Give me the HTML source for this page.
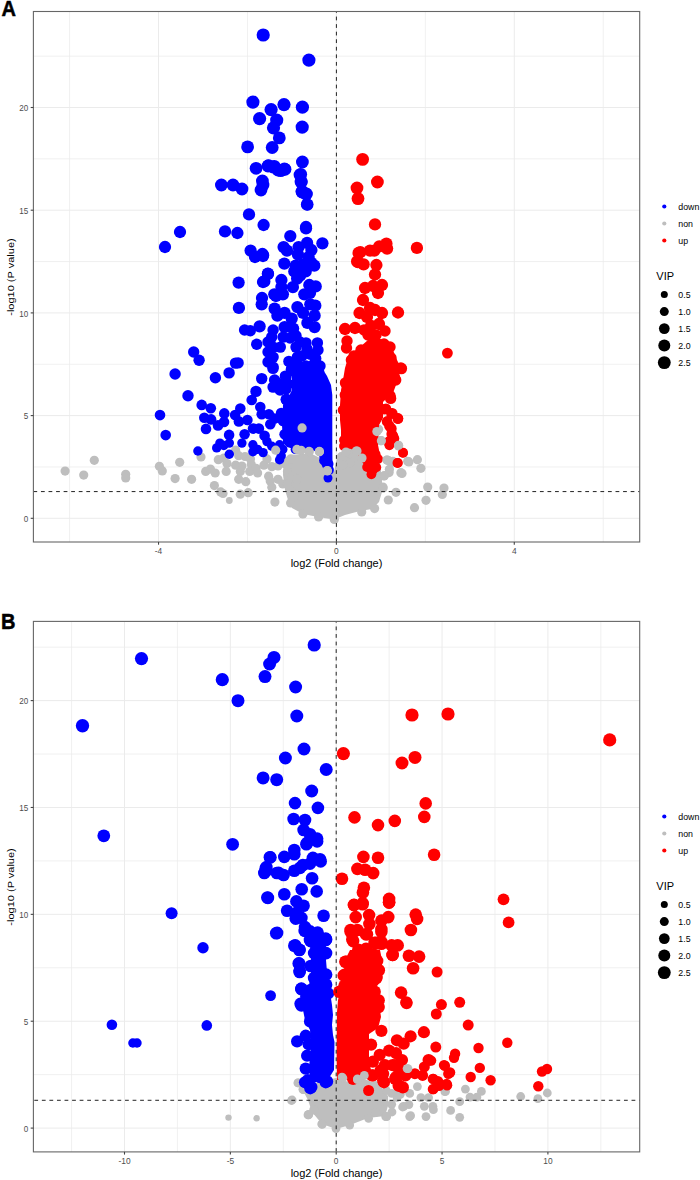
<!DOCTYPE html>
<html><head><meta charset="utf-8"><style>
html,body{margin:0;padding:0;background:#fff;width:700px;height:1180px;overflow:hidden}
svg{display:block}
text{font-family:"Liberation Sans",sans-serif}
</style></head><body>
<svg width="700" height="1180" viewBox="0 0 700 1180">
<rect width="700" height="1180" fill="#fff"/>
<line x1="69.58" y1="11.50" x2="69.58" y2="542.00" stroke="#EBEBEB" stroke-width="0.75" />
<line x1="247.46" y1="11.50" x2="247.46" y2="542.00" stroke="#EBEBEB" stroke-width="0.75" />
<line x1="425.34" y1="11.50" x2="425.34" y2="542.00" stroke="#EBEBEB" stroke-width="0.75" />
<line x1="603.22" y1="11.50" x2="603.22" y2="542.00" stroke="#EBEBEB" stroke-width="0.75" />
<line x1="33.40" y1="466.95" x2="639.70" y2="466.95" stroke="#EBEBEB" stroke-width="0.75" />
<line x1="33.40" y1="364.25" x2="639.70" y2="364.25" stroke="#EBEBEB" stroke-width="0.75" />
<line x1="33.40" y1="261.55" x2="639.70" y2="261.55" stroke="#EBEBEB" stroke-width="0.75" />
<line x1="33.40" y1="158.85" x2="639.70" y2="158.85" stroke="#EBEBEB" stroke-width="0.75" />
<line x1="33.40" y1="56.15" x2="639.70" y2="56.15" stroke="#EBEBEB" stroke-width="0.75" />
<line x1="158.52" y1="11.50" x2="158.52" y2="542.00" stroke="#EBEBEB" stroke-width="1.0" />
<line x1="336.40" y1="11.50" x2="336.40" y2="542.00" stroke="#EBEBEB" stroke-width="1.0" />
<line x1="514.28" y1="11.50" x2="514.28" y2="542.00" stroke="#EBEBEB" stroke-width="1.0" />
<line x1="33.40" y1="518.30" x2="639.70" y2="518.30" stroke="#EBEBEB" stroke-width="1.0" />
<line x1="33.40" y1="415.60" x2="639.70" y2="415.60" stroke="#EBEBEB" stroke-width="1.0" />
<line x1="33.40" y1="312.90" x2="639.70" y2="312.90" stroke="#EBEBEB" stroke-width="1.0" />
<line x1="33.40" y1="210.20" x2="639.70" y2="210.20" stroke="#EBEBEB" stroke-width="1.0" />
<line x1="33.40" y1="107.50" x2="639.70" y2="107.50" stroke="#EBEBEB" stroke-width="1.0" />
<polygon points="284,458 290,455 300,454 312,454 320,458 326,470 334,472 337,458 350,452 365,458 380,462 382,480 382,492 379,502 372,509 360,511 345,515 334,519.5 318,517 303,514 292,508 288,500 285,490 283,475" fill="#BEBEBE"/>
<circle cx="65.1" cy="471.1" r="4.6" fill="#BEBEBE"/>
<circle cx="83.7" cy="475.1" r="4.6" fill="#BEBEBE"/>
<circle cx="94.3" cy="460.3" r="4.6" fill="#BEBEBE"/>
<circle cx="125.7" cy="474.3" r="4.6" fill="#BEBEBE"/>
<circle cx="125.7" cy="478.0" r="4.6" fill="#BEBEBE"/>
<circle cx="159.4" cy="466.3" r="4.6" fill="#BEBEBE"/>
<circle cx="162.3" cy="470.9" r="4.6" fill="#BEBEBE"/>
<circle cx="179.7" cy="462.3" r="4.6" fill="#BEBEBE"/>
<circle cx="175.1" cy="478.6" r="4.6" fill="#BEBEBE"/>
<circle cx="201.0" cy="457.0" r="4.6" fill="#BEBEBE"/>
<circle cx="218.3" cy="459.7" r="4.6" fill="#BEBEBE"/>
<circle cx="223.8" cy="458.1" r="4.6" fill="#BEBEBE"/>
<circle cx="227.0" cy="463.6" r="4.6" fill="#BEBEBE"/>
<circle cx="226.2" cy="471.4" r="4.6" fill="#BEBEBE"/>
<circle cx="235.6" cy="450.2" r="4.6" fill="#BEBEBE"/>
<circle cx="238.7" cy="455.7" r="4.6" fill="#BEBEBE"/>
<circle cx="245.0" cy="456.5" r="4.6" fill="#BEBEBE"/>
<circle cx="250.5" cy="458.9" r="4.6" fill="#BEBEBE"/>
<circle cx="251.3" cy="464.4" r="4.6" fill="#BEBEBE"/>
<circle cx="235.6" cy="465.2" r="4.6" fill="#BEBEBE"/>
<circle cx="241.9" cy="466.0" r="4.6" fill="#BEBEBE"/>
<circle cx="240.3" cy="471.4" r="4.6" fill="#BEBEBE"/>
<circle cx="238.7" cy="479.3" r="4.6" fill="#BEBEBE"/>
<circle cx="245.8" cy="481.7" r="4.6" fill="#BEBEBE"/>
<circle cx="249.7" cy="471.4" r="4.6" fill="#BEBEBE"/>
<circle cx="256.0" cy="468.3" r="4.6" fill="#BEBEBE"/>
<circle cx="263.9" cy="465.2" r="4.6" fill="#BEBEBE"/>
<circle cx="267.0" cy="458.9" r="4.6" fill="#BEBEBE"/>
<circle cx="257.6" cy="473.0" r="4.6" fill="#BEBEBE"/>
<circle cx="271.8" cy="466.7" r="4.6" fill="#BEBEBE"/>
<circle cx="278.0" cy="466.0" r="4.6" fill="#BEBEBE"/>
<circle cx="284.3" cy="463.6" r="4.6" fill="#BEBEBE"/>
<circle cx="290.6" cy="458.9" r="4.6" fill="#BEBEBE"/>
<circle cx="205.7" cy="471.4" r="4.6" fill="#BEBEBE"/>
<circle cx="210.4" cy="469.1" r="4.6" fill="#BEBEBE"/>
<circle cx="215.2" cy="473.0" r="4.6" fill="#BEBEBE"/>
<circle cx="191.6" cy="479.3" r="4.6" fill="#BEBEBE"/>
<circle cx="214.4" cy="485.6" r="4.6" fill="#BEBEBE"/>
<circle cx="220.7" cy="491.9" r="4.6" fill="#BEBEBE"/>
<circle cx="223.0" cy="493.5" r="4.6" fill="#BEBEBE"/>
<circle cx="229.3" cy="500.5" r="3.4" fill="#BEBEBE"/>
<circle cx="240.3" cy="494.2" r="4.6" fill="#BEBEBE"/>
<circle cx="248.2" cy="492.7" r="4.6" fill="#BEBEBE"/>
<circle cx="270.2" cy="480.9" r="4.6" fill="#BEBEBE"/>
<circle cx="271.8" cy="487.2" r="4.6" fill="#BEBEBE"/>
<circle cx="268.6" cy="476.2" r="4.6" fill="#BEBEBE"/>
<circle cx="278.0" cy="479.3" r="4.6" fill="#BEBEBE"/>
<circle cx="282.8" cy="484.0" r="4.6" fill="#BEBEBE"/>
<circle cx="274.9" cy="502.1" r="4.6" fill="#BEBEBE"/>
<circle cx="287.5" cy="471.4" r="4.6" fill="#BEBEBE"/>
<circle cx="292.2" cy="476.2" r="4.6" fill="#BEBEBE"/>
<circle cx="296.9" cy="479.3" r="4.6" fill="#BEBEBE"/>
<circle cx="287.5" cy="484.0" r="4.6" fill="#BEBEBE"/>
<circle cx="290.6" cy="490.3" r="4.6" fill="#BEBEBE"/>
<circle cx="293.8" cy="496.6" r="4.6" fill="#BEBEBE"/>
<circle cx="290.6" cy="502.9" r="4.6" fill="#BEBEBE"/>
<circle cx="302.9" cy="513.9" r="4.6" fill="#BEBEBE"/>
<circle cx="318.6" cy="517.0" r="4.6" fill="#BEBEBE"/>
<circle cx="334.3" cy="519.4" r="4.6" fill="#BEBEBE"/>
<circle cx="398.6" cy="446.0" r="4.6" fill="#BEBEBE"/>
<circle cx="408.9" cy="461.9" r="4.6" fill="#BEBEBE"/>
<circle cx="417.4" cy="459.7" r="4.6" fill="#BEBEBE"/>
<circle cx="420.9" cy="468.3" r="4.6" fill="#BEBEBE"/>
<circle cx="402.0" cy="473.4" r="4.6" fill="#BEBEBE"/>
<circle cx="388.3" cy="460.6" r="4.6" fill="#BEBEBE"/>
<circle cx="391.7" cy="462.3" r="4.6" fill="#BEBEBE"/>
<circle cx="389.1" cy="472.6" r="4.6" fill="#BEBEBE"/>
<circle cx="384.0" cy="476.0" r="4.6" fill="#BEBEBE"/>
<circle cx="427.7" cy="487.1" r="4.6" fill="#BEBEBE"/>
<circle cx="444.0" cy="488.0" r="4.6" fill="#BEBEBE"/>
<circle cx="442.3" cy="494.5" r="4.6" fill="#BEBEBE"/>
<circle cx="426.0" cy="500.3" r="4.6" fill="#BEBEBE"/>
<circle cx="414.5" cy="507.7" r="4.6" fill="#BEBEBE"/>
<circle cx="396.0" cy="492.3" r="4.6" fill="#BEBEBE"/>
<circle cx="388.3" cy="500.0" r="4.6" fill="#BEBEBE"/>
<circle cx="383.1" cy="488.0" r="4.6" fill="#BEBEBE"/>
<circle cx="361.7" cy="512.0" r="4.6" fill="#BEBEBE"/>
<circle cx="374.6" cy="508.6" r="4.6" fill="#BEBEBE"/>
<circle cx="378.6" cy="429.3" r="4.6" fill="#BEBEBE"/>
<circle cx="380.7" cy="440.7" r="4.6" fill="#BEBEBE"/>
<circle cx="387.1" cy="460.0" r="4.6" fill="#BEBEBE"/>
<circle cx="392.9" cy="461.4" r="4.6" fill="#BEBEBE"/>
<circle cx="384.3" cy="475.7" r="4.6" fill="#BEBEBE"/>
<circle cx="354.3" cy="450.7" r="4.6" fill="#BEBEBE"/>
<circle cx="347.1" cy="452.9" r="4.6" fill="#BEBEBE"/>
<circle cx="342.9" cy="457.1" r="4.6" fill="#BEBEBE"/>
<circle cx="382.9" cy="487.0" r="4.6" fill="#BEBEBE"/>
<polygon points="294,368 305,362 316,362 322,368 327,376 331,385 332.3,395 332.3,420 332.3,440 332.5,468 330,474 326,474 322,466 319,456 316,451 305,450 294,449 287,447 283,443 282,425 283,405 288,398 292,390 292,375" fill="#0000FF"/>
<circle cx="263.2" cy="35.0" r="6.6" fill="#0000FF"/>
<circle cx="308.9" cy="60.1" r="6.6" fill="#0000FF"/>
<circle cx="252.9" cy="102.1" r="6.6" fill="#0000FF"/>
<circle cx="284.0" cy="104.6" r="6.6" fill="#0000FF"/>
<circle cx="302.4" cy="107.2" r="6.6" fill="#0000FF"/>
<circle cx="271.1" cy="109.6" r="6.6" fill="#0000FF"/>
<circle cx="259.6" cy="118.6" r="6.6" fill="#0000FF"/>
<circle cx="276.7" cy="120.1" r="6.6" fill="#0000FF"/>
<circle cx="273.5" cy="127.8" r="6.6" fill="#0000FF"/>
<circle cx="302.2" cy="127.1" r="6.6" fill="#0000FF"/>
<circle cx="279.3" cy="137.9" r="6.4" fill="#0000FF"/>
<circle cx="247.6" cy="146.9" r="6.4" fill="#0000FF"/>
<circle cx="272.2" cy="147.5" r="6.4" fill="#0000FF"/>
<circle cx="302.4" cy="162.0" r="6.4" fill="#0000FF"/>
<circle cx="256.1" cy="168.3" r="6.4" fill="#0000FF"/>
<circle cx="268.0" cy="166.0" r="6.4" fill="#0000FF"/>
<circle cx="273.0" cy="167.0" r="6.4" fill="#0000FF"/>
<circle cx="278.0" cy="170.0" r="6.4" fill="#0000FF"/>
<circle cx="284.4" cy="169.0" r="6.4" fill="#0000FF"/>
<circle cx="300.0" cy="175.0" r="6.4" fill="#0000FF"/>
<circle cx="301.0" cy="182.0" r="6.4" fill="#0000FF"/>
<circle cx="302.0" cy="192.0" r="6.4" fill="#0000FF"/>
<circle cx="306.0" cy="194.0" r="6.4" fill="#0000FF"/>
<circle cx="307.0" cy="204.4" r="6.15" fill="#0000FF"/>
<circle cx="306.0" cy="227.0" r="6.15" fill="#0000FF"/>
<circle cx="221.4" cy="185.0" r="6.4" fill="#0000FF"/>
<circle cx="233.0" cy="185.0" r="6.4" fill="#0000FF"/>
<circle cx="242.0" cy="189.0" r="6.4" fill="#0000FF"/>
<circle cx="262.4" cy="181.0" r="6.4" fill="#0000FF"/>
<circle cx="263.0" cy="185.0" r="6.4" fill="#0000FF"/>
<circle cx="261.0" cy="190.0" r="6.4" fill="#0000FF"/>
<circle cx="249.0" cy="214.4" r="6.15" fill="#0000FF"/>
<circle cx="263.6" cy="225.0" r="6.15" fill="#0000FF"/>
<circle cx="180.0" cy="232.0" r="6.15" fill="#0000FF"/>
<circle cx="165.0" cy="247.0" r="6.15" fill="#0000FF"/>
<circle cx="225.0" cy="231.4" r="6.15" fill="#0000FF"/>
<circle cx="237.4" cy="233.0" r="6.15" fill="#0000FF"/>
<circle cx="250.6" cy="250.6" r="6.15" fill="#0000FF"/>
<circle cx="255.0" cy="257.0" r="6.15" fill="#0000FF"/>
<circle cx="262.4" cy="254.0" r="6.15" fill="#0000FF"/>
<circle cx="263.0" cy="256.0" r="6.15" fill="#0000FF"/>
<circle cx="238.6" cy="282.6" r="6.15" fill="#0000FF"/>
<circle cx="268.0" cy="274.0" r="6.15" fill="#0000FF"/>
<circle cx="263.0" cy="282.0" r="6.15" fill="#0000FF"/>
<circle cx="276.0" cy="296.0" r="6.15" fill="#0000FF"/>
<circle cx="262.0" cy="298.0" r="6.15" fill="#0000FF"/>
<circle cx="306.0" cy="228.3" r="6.15" fill="#0000FF"/>
<circle cx="290.3" cy="236.1" r="6.15" fill="#0000FF"/>
<circle cx="322.4" cy="243.3" r="6.15" fill="#0000FF"/>
<circle cx="283.6" cy="247.1" r="6.15" fill="#0000FF"/>
<circle cx="287.0" cy="250.7" r="6.15" fill="#0000FF"/>
<circle cx="298.6" cy="247.1" r="6.15" fill="#0000FF"/>
<circle cx="307.1" cy="242.9" r="6.15" fill="#0000FF"/>
<circle cx="311.4" cy="250.0" r="6.15" fill="#0000FF"/>
<circle cx="263.1" cy="255.0" r="6.15" fill="#0000FF"/>
<circle cx="297.9" cy="254.3" r="6.15" fill="#0000FF"/>
<circle cx="308.6" cy="257.1" r="6.15" fill="#0000FF"/>
<circle cx="284.3" cy="263.6" r="6.15" fill="#0000FF"/>
<circle cx="295.7" cy="265.7" r="6.15" fill="#0000FF"/>
<circle cx="302.9" cy="264.3" r="6.15" fill="#0000FF"/>
<circle cx="314.3" cy="265.7" r="6.15" fill="#0000FF"/>
<circle cx="311.4" cy="262.9" r="6.15" fill="#0000FF"/>
<circle cx="294.3" cy="271.4" r="6.15" fill="#0000FF"/>
<circle cx="305.7" cy="271.4" r="6.15" fill="#0000FF"/>
<circle cx="300.0" cy="275.7" r="6.15" fill="#0000FF"/>
<circle cx="267.9" cy="273.6" r="6.15" fill="#0000FF"/>
<circle cx="264.3" cy="281.4" r="6.15" fill="#0000FF"/>
<circle cx="281.4" cy="280.0" r="6.15" fill="#0000FF"/>
<circle cx="297.1" cy="278.6" r="6.15" fill="#0000FF"/>
<circle cx="292.9" cy="287.1" r="6.15" fill="#0000FF"/>
<circle cx="281.4" cy="287.1" r="6.15" fill="#0000FF"/>
<circle cx="282.9" cy="294.3" r="6.15" fill="#0000FF"/>
<circle cx="274.3" cy="294.3" r="6.15" fill="#0000FF"/>
<circle cx="309.3" cy="285.0" r="6.15" fill="#0000FF"/>
<circle cx="315.7" cy="286.4" r="6.15" fill="#0000FF"/>
<circle cx="304.3" cy="294.3" r="6.15" fill="#0000FF"/>
<circle cx="310.0" cy="292.9" r="6.15" fill="#0000FF"/>
<circle cx="160.0" cy="415.1" r="5.3" fill="#0000FF"/>
<circle cx="165.7" cy="435.1" r="5.3" fill="#0000FF"/>
<circle cx="193.7" cy="352.0" r="5.7" fill="#0000FF"/>
<circle cx="199.1" cy="360.2" r="5.7" fill="#0000FF"/>
<circle cx="175.1" cy="374.0" r="5.7" fill="#0000FF"/>
<circle cx="215.4" cy="377.7" r="5.7" fill="#0000FF"/>
<circle cx="229.1" cy="372.9" r="5.7" fill="#0000FF"/>
<circle cx="235.5" cy="363.1" r="5.7" fill="#0000FF"/>
<circle cx="188.0" cy="395.7" r="5.7" fill="#0000FF"/>
<circle cx="201.7" cy="404.9" r="5.3" fill="#0000FF"/>
<circle cx="210.8" cy="408.3" r="5.3" fill="#0000FF"/>
<circle cx="204.3" cy="417.7" r="5.3" fill="#0000FF"/>
<circle cx="211.1" cy="419.4" r="5.3" fill="#0000FF"/>
<circle cx="206.0" cy="428.9" r="5.3" fill="#0000FF"/>
<circle cx="218.0" cy="425.4" r="5.3" fill="#0000FF"/>
<circle cx="224.3" cy="413.4" r="5.3" fill="#0000FF"/>
<circle cx="224.0" cy="422.0" r="5.3" fill="#0000FF"/>
<circle cx="235.1" cy="415.1" r="5.3" fill="#0000FF"/>
<circle cx="229.1" cy="434.9" r="5.3" fill="#0000FF"/>
<circle cx="268.6" cy="165.7" r="6.4" fill="#0000FF"/>
<circle cx="274.3" cy="166.4" r="6.4" fill="#0000FF"/>
<circle cx="280.7" cy="170.7" r="6.4" fill="#0000FF"/>
<circle cx="285.0" cy="169.3" r="6.4" fill="#0000FF"/>
<circle cx="300.7" cy="174.3" r="6.4" fill="#0000FF"/>
<circle cx="301.4" cy="181.7" r="6.4" fill="#0000FF"/>
<circle cx="302.1" cy="191.4" r="6.4" fill="#0000FF"/>
<circle cx="306.4" cy="194.0" r="6.4" fill="#0000FF"/>
<circle cx="307.4" cy="204.6" r="6.15" fill="#0000FF"/>
<circle cx="324.0" cy="460.6" r="4.9" fill="#0000FF"/>
<circle cx="328.6" cy="464.0" r="4.9" fill="#0000FF"/>
<circle cx="238.9" cy="307.9" r="6.15" fill="#0000FF"/>
<circle cx="261.7" cy="304.3" r="6.15" fill="#0000FF"/>
<circle cx="274.6" cy="308.6" r="6.15" fill="#0000FF"/>
<circle cx="277.4" cy="315.7" r="6.15" fill="#0000FF"/>
<circle cx="284.6" cy="312.9" r="6.15" fill="#0000FF"/>
<circle cx="291.7" cy="318.6" r="6.15" fill="#0000FF"/>
<circle cx="297.4" cy="307.1" r="6.15" fill="#0000FF"/>
<circle cx="303.1" cy="312.9" r="6.15" fill="#0000FF"/>
<circle cx="310.3" cy="304.3" r="6.15" fill="#0000FF"/>
<circle cx="314.6" cy="315.7" r="6.15" fill="#0000FF"/>
<circle cx="315.3" cy="305.7" r="6.15" fill="#0000FF"/>
<circle cx="307.4" cy="322.9" r="6.15" fill="#0000FF"/>
<circle cx="314.6" cy="327.1" r="6.15" fill="#0000FF"/>
<circle cx="244.6" cy="330.0" r="5.7" fill="#0000FF"/>
<circle cx="250.3" cy="330.7" r="5.7" fill="#0000FF"/>
<circle cx="259.6" cy="326.4" r="6.15" fill="#0000FF"/>
<circle cx="256.7" cy="344.3" r="5.7" fill="#0000FF"/>
<circle cx="238.1" cy="362.9" r="5.7" fill="#0000FF"/>
<circle cx="273.1" cy="330.0" r="5.7" fill="#0000FF"/>
<circle cx="271.7" cy="337.1" r="5.7" fill="#0000FF"/>
<circle cx="273.1" cy="347.1" r="5.7" fill="#0000FF"/>
<circle cx="273.1" cy="357.1" r="5.7" fill="#0000FF"/>
<circle cx="273.1" cy="367.1" r="5.7" fill="#0000FF"/>
<circle cx="284.6" cy="327.1" r="6.15" fill="#0000FF"/>
<circle cx="293.1" cy="328.6" r="6.15" fill="#0000FF"/>
<circle cx="296.0" cy="335.7" r="5.7" fill="#0000FF"/>
<circle cx="283.1" cy="337.1" r="5.7" fill="#0000FF"/>
<circle cx="280.3" cy="347.1" r="5.7" fill="#0000FF"/>
<circle cx="288.9" cy="361.4" r="5.7" fill="#0000FF"/>
<circle cx="296.0" cy="347.1" r="5.7" fill="#0000FF"/>
<circle cx="297.4" cy="357.1" r="5.7" fill="#0000FF"/>
<circle cx="306.0" cy="342.9" r="5.7" fill="#0000FF"/>
<circle cx="317.4" cy="342.9" r="5.7" fill="#0000FF"/>
<circle cx="315.7" cy="358.6" r="5.7" fill="#0000FF"/>
<circle cx="310.3" cy="354.3" r="5.7" fill="#0000FF"/>
<circle cx="261.7" cy="378.6" r="5.7" fill="#0000FF"/>
<circle cx="274.6" cy="380.0" r="5.7" fill="#0000FF"/>
<circle cx="286.0" cy="377.1" r="5.7" fill="#0000FF"/>
<circle cx="256.0" cy="391.4" r="5.7" fill="#0000FF"/>
<circle cx="251.7" cy="400.0" r="5.3" fill="#0000FF"/>
<circle cx="273.1" cy="387.1" r="5.7" fill="#0000FF"/>
<circle cx="286.0" cy="400.0" r="5.3" fill="#0000FF"/>
<circle cx="240.3" cy="408.6" r="5.3" fill="#0000FF"/>
<circle cx="238.9" cy="421.4" r="5.3" fill="#0000FF"/>
<circle cx="260.3" cy="407.1" r="5.3" fill="#0000FF"/>
<circle cx="261.7" cy="414.3" r="5.3" fill="#0000FF"/>
<circle cx="268.9" cy="414.3" r="5.3" fill="#0000FF"/>
<circle cx="274.6" cy="418.6" r="5.3" fill="#0000FF"/>
<circle cx="247.4" cy="420.0" r="5.3" fill="#0000FF"/>
<circle cx="253.1" cy="428.6" r="5.3" fill="#0000FF"/>
<circle cx="258.9" cy="428.6" r="5.3" fill="#0000FF"/>
<circle cx="270.3" cy="424.3" r="5.3" fill="#0000FF"/>
<circle cx="244.6" cy="434.3" r="5.3" fill="#0000FF"/>
<circle cx="264.6" cy="435.7" r="5.3" fill="#0000FF"/>
<circle cx="284.6" cy="434.3" r="5.3" fill="#0000FF"/>
<circle cx="318.6" cy="371.4" r="5.7" fill="#0000FF"/>
<circle cx="321.4" cy="392.9" r="5.7" fill="#0000FF"/>
<circle cx="322.9" cy="404.3" r="5.3" fill="#0000FF"/>
<circle cx="323.6" cy="414.3" r="5.3" fill="#0000FF"/>
<circle cx="323.6" cy="428.6" r="5.3" fill="#0000FF"/>
<circle cx="322.9" cy="442.9" r="4.9" fill="#0000FF"/>
<circle cx="288.0" cy="384.0" r="5.7" fill="#0000FF"/>
<circle cx="295.0" cy="372.0" r="5.7" fill="#0000FF"/>
<circle cx="300.0" cy="342.0" r="5.7" fill="#0000FF"/>
<circle cx="307.0" cy="349.0" r="5.7" fill="#0000FF"/>
<circle cx="302.0" cy="356.0" r="5.7" fill="#0000FF"/>
<circle cx="318.0" cy="350.0" r="5.7" fill="#0000FF"/>
<circle cx="298.0" cy="365.0" r="5.7" fill="#0000FF"/>
<circle cx="306.0" cy="366.0" r="5.7" fill="#0000FF"/>
<circle cx="314.0" cy="364.0" r="5.7" fill="#0000FF"/>
<circle cx="320.0" cy="366.0" r="5.7" fill="#0000FF"/>
<circle cx="290.0" cy="338.0" r="5.7" fill="#0000FF"/>
<circle cx="268.0" cy="342.0" r="5.7" fill="#0000FF"/>
<circle cx="268.0" cy="352.0" r="5.7" fill="#0000FF"/>
<circle cx="268.0" cy="362.0" r="5.7" fill="#0000FF"/>
<circle cx="197.9" cy="451.0" r="4.7" fill="#0000FF"/>
<circle cx="219.9" cy="443.1" r="4.7" fill="#0000FF"/>
<circle cx="216.7" cy="447.9" r="4.7" fill="#0000FF"/>
<circle cx="223.8" cy="445.5" r="4.7" fill="#0000FF"/>
<circle cx="229.3" cy="443.1" r="4.7" fill="#0000FF"/>
<circle cx="229.3" cy="454.2" r="4.7" fill="#0000FF"/>
<circle cx="241.9" cy="443.1" r="4.7" fill="#0000FF"/>
<circle cx="252.9" cy="444.7" r="4.7" fill="#0000FF"/>
<circle cx="257.6" cy="449.4" r="4.7" fill="#0000FF"/>
<circle cx="252.9" cy="451.8" r="4.7" fill="#0000FF"/>
<circle cx="263.1" cy="452.6" r="4.7" fill="#0000FF"/>
<circle cx="267.0" cy="441.6" r="4.7" fill="#0000FF"/>
<circle cx="271.8" cy="446.3" r="4.7" fill="#0000FF"/>
<circle cx="279.6" cy="444.7" r="4.7" fill="#0000FF"/>
<circle cx="282.8" cy="449.4" r="4.7" fill="#0000FF"/>
<circle cx="281.2" cy="455.7" r="4.7" fill="#0000FF"/>
<circle cx="279.6" cy="459.7" r="4.7" fill="#0000FF"/>
<circle cx="293.8" cy="443.1" r="4.7" fill="#0000FF"/>
<circle cx="295.3" cy="449.4" r="4.7" fill="#0000FF"/>
<circle cx="273.0" cy="368.4" r="5.7" fill="#0000FF"/>
<circle cx="281.0" cy="384.0" r="5.7" fill="#0000FF"/>
<circle cx="286.0" cy="389.0" r="5.7" fill="#0000FF"/>
<circle cx="280.0" cy="390.0" r="5.7" fill="#0000FF"/>
<circle cx="285.4" cy="376.1" r="5.7" fill="#0000FF"/>
<circle cx="291.4" cy="369.3" r="5.7" fill="#0000FF"/>
<circle cx="281.1" cy="413.0" r="5.3" fill="#0000FF"/>
<circle cx="288.0" cy="410.0" r="5.3" fill="#0000FF"/>
<circle cx="290.0" cy="418.0" r="5.3" fill="#0000FF"/>
<circle cx="283.0" cy="421.0" r="5.3" fill="#0000FF"/>
<circle cx="286.3" cy="399.3" r="5.7" fill="#0000FF"/>
<circle cx="328.0" cy="478.0" r="4.5" fill="#0000FF"/>
<circle cx="329.0" cy="470.0" r="4.9" fill="#0000FF"/>
<polygon points="345,368 348,358 352,353 360,347 368,340 378,338 388,342 393,350 396,358 400,366 399,375 396,385 393,393 387,398 383,402 383,418 379,425 378,445 380,455 376,468 370,472 362,462 355,450 345,450 341,440 341,430 340,420 340,405 341,390 343,380" fill="#FF0000"/>
<circle cx="362.6" cy="159.4" r="6.4" fill="#FF0000"/>
<circle cx="377.4" cy="182.0" r="6.4" fill="#FF0000"/>
<circle cx="357.0" cy="188.0" r="6.4" fill="#FF0000"/>
<circle cx="358.0" cy="198.6" r="6.4" fill="#FF0000"/>
<circle cx="375.0" cy="224.4" r="6.15" fill="#FF0000"/>
<circle cx="386.4" cy="243.6" r="6.15" fill="#FF0000"/>
<circle cx="387.1" cy="248.6" r="6.15" fill="#FF0000"/>
<circle cx="379.3" cy="246.4" r="6.15" fill="#FF0000"/>
<circle cx="374.3" cy="250.7" r="6.15" fill="#FF0000"/>
<circle cx="370.0" cy="250.7" r="6.15" fill="#FF0000"/>
<circle cx="416.9" cy="247.9" r="6.15" fill="#FF0000"/>
<circle cx="360.3" cy="252.1" r="6.15" fill="#FF0000"/>
<circle cx="357.9" cy="262.1" r="6.15" fill="#FF0000"/>
<circle cx="363.6" cy="264.3" r="6.15" fill="#FF0000"/>
<circle cx="376.4" cy="265.0" r="6.15" fill="#FF0000"/>
<circle cx="358.6" cy="252.9" r="6.15" fill="#FF0000"/>
<circle cx="357.1" cy="261.4" r="6.15" fill="#FF0000"/>
<circle cx="351.4" cy="360.0" r="5.7" fill="#FF0000"/>
<circle cx="390.0" cy="360.0" r="5.7" fill="#FF0000"/>
<circle cx="401.4" cy="368.6" r="5.7" fill="#FF0000"/>
<circle cx="395.7" cy="380.0" r="5.7" fill="#FF0000"/>
<circle cx="390.0" cy="395.7" r="5.7" fill="#FF0000"/>
<circle cx="384.3" cy="409.3" r="5.3" fill="#FF0000"/>
<circle cx="391.4" cy="413.6" r="5.3" fill="#FF0000"/>
<circle cx="397.9" cy="418.6" r="5.3" fill="#FF0000"/>
<circle cx="387.1" cy="421.4" r="5.3" fill="#FF0000"/>
<circle cx="391.4" cy="428.6" r="5.3" fill="#FF0000"/>
<circle cx="392.9" cy="435.7" r="5.3" fill="#FF0000"/>
<circle cx="388.6" cy="441.4" r="4.9" fill="#FF0000"/>
<circle cx="402.9" cy="452.9" r="4.9" fill="#FF0000"/>
<circle cx="397.9" cy="462.9" r="4.9" fill="#FF0000"/>
<circle cx="372.9" cy="470.0" r="4.9" fill="#FF0000"/>
<circle cx="371.4" cy="474.3" r="4.9" fill="#FF0000"/>
<circle cx="367.1" cy="467.1" r="4.9" fill="#FF0000"/>
<circle cx="376.3" cy="467.4" r="4.9" fill="#FF0000"/>
<circle cx="389.1" cy="443.4" r="4.9" fill="#FF0000"/>
<circle cx="394.3" cy="377.0" r="5.7" fill="#FF0000"/>
<circle cx="447.4" cy="353.1" r="5.4" fill="#FF0000"/>
<circle cx="345.5" cy="382.9" r="5.7" fill="#FF0000"/>
<circle cx="345.3" cy="395.0" r="5.7" fill="#FF0000"/>
<circle cx="343.0" cy="410.0" r="5.3" fill="#FF0000"/>
<circle cx="346.5" cy="425.0" r="5.3" fill="#FF0000"/>
<circle cx="344.0" cy="440.0" r="4.9" fill="#FF0000"/>
<circle cx="347.0" cy="451.0" r="4.9" fill="#FF0000"/>
<circle cx="390.6" cy="360.0" r="5.7" fill="#FF0000"/>
<circle cx="400.9" cy="368.0" r="5.7" fill="#FF0000"/>
<circle cx="394.0" cy="377.1" r="5.7" fill="#FF0000"/>
<circle cx="390.6" cy="398.4" r="5.7" fill="#FF0000"/>
<circle cx="386.0" cy="408.7" r="5.3" fill="#FF0000"/>
<circle cx="392.3" cy="413.3" r="5.3" fill="#FF0000"/>
<circle cx="398.0" cy="418.4" r="5.3" fill="#FF0000"/>
<circle cx="389.4" cy="425.9" r="5.3" fill="#FF0000"/>
<circle cx="391.7" cy="433.9" r="5.3" fill="#FF0000"/>
<circle cx="394.0" cy="438.4" r="5.3" fill="#FF0000"/>
<circle cx="389.4" cy="445.3" r="4.9" fill="#FF0000"/>
<circle cx="403.1" cy="452.7" r="4.9" fill="#FF0000"/>
<circle cx="397.4" cy="463.0" r="4.9" fill="#FF0000"/>
<circle cx="375.7" cy="454.4" r="4.9" fill="#FF0000"/>
<circle cx="378.0" cy="459.0" r="4.9" fill="#FF0000"/>
<circle cx="373.4" cy="463.6" r="4.9" fill="#FF0000"/>
<circle cx="371.1" cy="469.3" r="4.9" fill="#FF0000"/>
<circle cx="344.0" cy="446.0" r="4.9" fill="#FF0000"/>
<circle cx="375.0" cy="274.5" r="6.15" fill="#FF0000"/>
<circle cx="365.0" cy="288.0" r="6.15" fill="#FF0000"/>
<circle cx="373.0" cy="286.0" r="6.15" fill="#FF0000"/>
<circle cx="382.0" cy="285.0" r="6.15" fill="#FF0000"/>
<circle cx="378.0" cy="293.0" r="6.15" fill="#FF0000"/>
<circle cx="363.0" cy="300.0" r="6.15" fill="#FF0000"/>
<circle cx="370.0" cy="308.0" r="6.15" fill="#FF0000"/>
<circle cx="375.0" cy="310.0" r="6.15" fill="#FF0000"/>
<circle cx="359.5" cy="313.0" r="6.15" fill="#FF0000"/>
<circle cx="382.0" cy="313.0" r="6.15" fill="#FF0000"/>
<circle cx="398.0" cy="312.5" r="6.15" fill="#FF0000"/>
<circle cx="367.0" cy="317.0" r="6.15" fill="#FF0000"/>
<circle cx="345.0" cy="329.0" r="6.15" fill="#FF0000"/>
<circle cx="355.0" cy="328.0" r="6.15" fill="#FF0000"/>
<circle cx="364.0" cy="330.0" r="5.7" fill="#FF0000"/>
<circle cx="371.0" cy="326.0" r="6.15" fill="#FF0000"/>
<circle cx="379.0" cy="324.0" r="6.15" fill="#FF0000"/>
<circle cx="385.0" cy="331.0" r="5.7" fill="#FF0000"/>
<circle cx="368.0" cy="335.0" r="5.7" fill="#FF0000"/>
<circle cx="374.0" cy="340.0" r="5.7" fill="#FF0000"/>
<circle cx="376.0" cy="335.0" r="5.7" fill="#FF0000"/>
<circle cx="347.0" cy="341.0" r="5.7" fill="#FF0000"/>
<circle cx="346.5" cy="348.0" r="5.7" fill="#FF0000"/>
<circle cx="361.0" cy="350.0" r="5.7" fill="#FF0000"/>
<circle cx="354.0" cy="356.0" r="5.7" fill="#FF0000"/>
<circle cx="384.0" cy="344.0" r="5.7" fill="#FF0000"/>
<circle cx="390.0" cy="347.0" r="5.7" fill="#FF0000"/>
<circle cx="366.0" cy="350.0" r="5.7" fill="#FF0000"/>
<circle cx="376.0" cy="348.0" r="5.7" fill="#FF0000"/>
<circle cx="391.0" cy="358.0" r="5.7" fill="#FF0000"/>
<circle cx="296.9" cy="449.4" r="4.6" fill="#BEBEBE"/>
<circle cx="275.7" cy="450.2" r="4.6" fill="#BEBEBE"/>
<circle cx="309.1" cy="451.8" r="4.6" fill="#BEBEBE"/>
<circle cx="319.4" cy="451.8" r="4.6" fill="#BEBEBE"/>
<circle cx="327.2" cy="470.6" r="4.6" fill="#BEBEBE"/>
<circle cx="302.1" cy="427.9" r="4.6" fill="#BEBEBE"/>
<circle cx="356.3" cy="451.0" r="4.6" fill="#BEBEBE"/>
<circle cx="349.4" cy="453.3" r="4.6" fill="#BEBEBE"/>
<circle cx="341.4" cy="456.7" r="4.6" fill="#BEBEBE"/>
<circle cx="398.6" cy="445.3" r="4.6" fill="#BEBEBE"/>
<circle cx="376.9" cy="431.6" r="4.6" fill="#BEBEBE"/>
<circle cx="381.4" cy="440.7" r="4.6" fill="#BEBEBE"/>
<circle cx="387.0" cy="460.0" r="4.6" fill="#BEBEBE"/>
<circle cx="407.7" cy="461.3" r="4.6" fill="#BEBEBE"/>
<circle cx="389.4" cy="469.3" r="4.6" fill="#BEBEBE"/>
<circle cx="400.9" cy="472.7" r="4.6" fill="#BEBEBE"/>
<circle cx="301.1" cy="450.3" r="4.6" fill="#BEBEBE"/>
<circle cx="309.1" cy="451.4" r="4.6" fill="#BEBEBE"/>
<circle cx="319.4" cy="451.4" r="4.6" fill="#BEBEBE"/>
<circle cx="327.4" cy="470.9" r="4.6" fill="#BEBEBE"/>
<circle cx="346.0" cy="452.0" r="4.6" fill="#BEBEBE"/>
<circle cx="357.0" cy="451.0" r="4.6" fill="#BEBEBE"/>
<circle cx="350.0" cy="463.0" r="4.6" fill="#BEBEBE"/>
<circle cx="343.0" cy="465.0" r="4.6" fill="#BEBEBE"/>
<circle cx="362.0" cy="458.0" r="4.6" fill="#BEBEBE"/>
<line x1="336.40" y1="542.00" x2="336.40" y2="11.50" stroke="#222" stroke-width="1.0" stroke-dasharray="3.78,3.78"/>
<line x1="33.40" y1="491.58" x2="639.70" y2="491.58" stroke="#222" stroke-width="1.0" stroke-dasharray="3.78,3.78"/>
<rect x="33.4" y="11.5" width="606.30" height="530.50" fill="none" stroke="#666" stroke-width="1.1"/>
<line x1="158.52" y1="542.00" x2="158.52" y2="544.70" stroke="#444" stroke-width="1.1" />
<text transform="translate(158.52,553.60) scale(0.93,1.05)" font-size="9" text-anchor="middle" fill="#4D4D4D" >-4</text>
<line x1="336.40" y1="542.00" x2="336.40" y2="544.70" stroke="#444" stroke-width="1.1" />
<text transform="translate(336.40,553.60) scale(0.93,1.05)" font-size="9" text-anchor="middle" fill="#4D4D4D" >0</text>
<line x1="514.28" y1="542.00" x2="514.28" y2="544.70" stroke="#444" stroke-width="1.1" />
<text transform="translate(514.28,553.60) scale(0.93,1.05)" font-size="9" text-anchor="middle" fill="#4D4D4D" >4</text>
<line x1="30.70" y1="518.30" x2="33.40" y2="518.30" stroke="#444" stroke-width="1.1" />
<text transform="translate(28.20,521.90) scale(0.9,1.1)" font-size="9" text-anchor="end" fill="#4D4D4D" >0</text>
<line x1="30.70" y1="415.60" x2="33.40" y2="415.60" stroke="#444" stroke-width="1.1" />
<text transform="translate(28.20,419.20) scale(0.9,1.1)" font-size="9" text-anchor="end" fill="#4D4D4D" >5</text>
<line x1="30.70" y1="312.90" x2="33.40" y2="312.90" stroke="#444" stroke-width="1.1" />
<text transform="translate(28.20,316.50) scale(0.9,1.1)" font-size="9" text-anchor="end" fill="#4D4D4D" >10</text>
<line x1="30.70" y1="210.20" x2="33.40" y2="210.20" stroke="#444" stroke-width="1.1" />
<text transform="translate(28.20,213.80) scale(0.9,1.1)" font-size="9" text-anchor="end" fill="#4D4D4D" >15</text>
<line x1="30.70" y1="107.50" x2="33.40" y2="107.50" stroke="#444" stroke-width="1.1" />
<text transform="translate(28.20,111.10) scale(0.9,1.1)" font-size="9" text-anchor="end" fill="#4D4D4D" >20</text>
<text transform="translate(1.60,16.00) scale(0.89,1)" font-size="22.5" text-anchor="start" fill="#000" font-weight="bold" stroke="#000" stroke-width="0.5">A</text>
<line x1="71.57" y1="621.40" x2="71.57" y2="1151.90" stroke="#EBEBEB" stroke-width="0.75" />
<line x1="177.42" y1="621.40" x2="177.42" y2="1151.90" stroke="#EBEBEB" stroke-width="0.75" />
<line x1="283.27" y1="621.40" x2="283.27" y2="1151.90" stroke="#EBEBEB" stroke-width="0.75" />
<line x1="389.12" y1="621.40" x2="389.12" y2="1151.90" stroke="#EBEBEB" stroke-width="0.75" />
<line x1="494.98" y1="621.40" x2="494.98" y2="1151.90" stroke="#EBEBEB" stroke-width="0.75" />
<line x1="600.83" y1="621.40" x2="600.83" y2="1151.90" stroke="#EBEBEB" stroke-width="0.75" />
<line x1="33.40" y1="1074.66" x2="639.70" y2="1074.66" stroke="#EBEBEB" stroke-width="0.75" />
<line x1="33.40" y1="967.79" x2="639.70" y2="967.79" stroke="#EBEBEB" stroke-width="0.75" />
<line x1="33.40" y1="860.91" x2="639.70" y2="860.91" stroke="#EBEBEB" stroke-width="0.75" />
<line x1="33.40" y1="754.04" x2="639.70" y2="754.04" stroke="#EBEBEB" stroke-width="0.75" />
<line x1="33.40" y1="647.16" x2="639.70" y2="647.16" stroke="#EBEBEB" stroke-width="0.75" />
<line x1="124.50" y1="621.40" x2="124.50" y2="1151.90" stroke="#EBEBEB" stroke-width="1.0" />
<line x1="230.35" y1="621.40" x2="230.35" y2="1151.90" stroke="#EBEBEB" stroke-width="1.0" />
<line x1="336.20" y1="621.40" x2="336.20" y2="1151.90" stroke="#EBEBEB" stroke-width="1.0" />
<line x1="442.05" y1="621.40" x2="442.05" y2="1151.90" stroke="#EBEBEB" stroke-width="1.0" />
<line x1="547.90" y1="621.40" x2="547.90" y2="1151.90" stroke="#EBEBEB" stroke-width="1.0" />
<line x1="33.40" y1="1128.10" x2="639.70" y2="1128.10" stroke="#EBEBEB" stroke-width="1.0" />
<line x1="33.40" y1="1021.22" x2="639.70" y2="1021.22" stroke="#EBEBEB" stroke-width="1.0" />
<line x1="33.40" y1="914.35" x2="639.70" y2="914.35" stroke="#EBEBEB" stroke-width="1.0" />
<line x1="33.40" y1="807.47" x2="639.70" y2="807.47" stroke="#EBEBEB" stroke-width="1.0" />
<line x1="33.40" y1="700.60" x2="639.70" y2="700.60" stroke="#EBEBEB" stroke-width="1.0" />
<polygon points="300,1085 315,1083 336,1078 352,1083 362,1078 372,1082 382,1088 388,1096 388,1106 385,1116 368,1118 350,1125 336,1129 322,1124 312,1112 308,1100" fill="#BEBEBE"/>
<circle cx="228.5" cy="1117.6" r="3.2" fill="#BEBEBE"/>
<circle cx="256.6" cy="1118.3" r="3.2" fill="#BEBEBE"/>
<circle cx="291.5" cy="1100.5" r="4.4" fill="#BEBEBE"/>
<circle cx="298.2" cy="1082.9" r="4.4" fill="#BEBEBE"/>
<circle cx="303.4" cy="1089.7" r="4.4" fill="#BEBEBE"/>
<circle cx="308.0" cy="1114.9" r="4.4" fill="#BEBEBE"/>
<circle cx="314.9" cy="1110.3" r="4.4" fill="#BEBEBE"/>
<circle cx="321.7" cy="1124.0" r="4.4" fill="#BEBEBE"/>
<circle cx="297.9" cy="1082.9" r="4.4" fill="#BEBEBE"/>
<circle cx="302.9" cy="1089.3" r="4.4" fill="#BEBEBE"/>
<circle cx="292.1" cy="1100.0" r="4.4" fill="#BEBEBE"/>
<circle cx="308.6" cy="1114.3" r="4.4" fill="#BEBEBE"/>
<circle cx="303.4" cy="1089.0" r="4.4" fill="#BEBEBE"/>
<circle cx="308.6" cy="1114.9" r="4.4" fill="#BEBEBE"/>
<circle cx="313.7" cy="1109.7" r="4.4" fill="#BEBEBE"/>
<circle cx="322.3" cy="1124.3" r="4.4" fill="#BEBEBE"/>
<circle cx="336.0" cy="1128.6" r="4.4" fill="#BEBEBE"/>
<circle cx="349.7" cy="1125.1" r="4.4" fill="#BEBEBE"/>
<circle cx="368.6" cy="1118.3" r="4.4" fill="#BEBEBE"/>
<circle cx="385.7" cy="1116.6" r="4.4" fill="#BEBEBE"/>
<circle cx="409.7" cy="1116.6" r="4.4" fill="#BEBEBE"/>
<circle cx="391.7" cy="1093.4" r="4.4" fill="#BEBEBE"/>
<circle cx="400.3" cy="1094.3" r="4.4" fill="#BEBEBE"/>
<circle cx="420.9" cy="1097.7" r="4.4" fill="#BEBEBE"/>
<circle cx="428.6" cy="1097.7" r="4.4" fill="#BEBEBE"/>
<circle cx="444.9" cy="1091.7" r="4.4" fill="#BEBEBE"/>
<circle cx="408.9" cy="1104.6" r="4.4" fill="#BEBEBE"/>
<circle cx="403.7" cy="1106.3" r="4.4" fill="#BEBEBE"/>
<circle cx="424.3" cy="1106.3" r="4.4" fill="#BEBEBE"/>
<circle cx="432.9" cy="1106.3" r="4.4" fill="#BEBEBE"/>
<circle cx="426.0" cy="1116.6" r="4.4" fill="#BEBEBE"/>
<circle cx="410.6" cy="1115.7" r="4.4" fill="#BEBEBE"/>
<circle cx="386.6" cy="1116.6" r="4.4" fill="#BEBEBE"/>
<circle cx="417.4" cy="1086.6" r="4.4" fill="#BEBEBE"/>
<circle cx="409.7" cy="1093.4" r="4.4" fill="#BEBEBE"/>
<circle cx="445.5" cy="1091.4" r="4.4" fill="#BEBEBE"/>
<circle cx="465.4" cy="1089.1" r="4.4" fill="#BEBEBE"/>
<circle cx="481.4" cy="1091.4" r="4.4" fill="#BEBEBE"/>
<circle cx="476.9" cy="1097.1" r="4.4" fill="#BEBEBE"/>
<circle cx="470.0" cy="1097.1" r="4.4" fill="#BEBEBE"/>
<circle cx="459.7" cy="1101.7" r="4.4" fill="#BEBEBE"/>
<circle cx="450.6" cy="1110.4" r="4.4" fill="#BEBEBE"/>
<circle cx="459.7" cy="1117.3" r="4.4" fill="#BEBEBE"/>
<circle cx="433.4" cy="1109.7" r="4.4" fill="#BEBEBE"/>
<circle cx="520.7" cy="1096.5" r="4.4" fill="#BEBEBE"/>
<circle cx="537.9" cy="1098.7" r="4.4" fill="#BEBEBE"/>
<circle cx="547.3" cy="1093.0" r="4.4" fill="#BEBEBE"/>
<circle cx="375.4" cy="1085.3" r="4.4" fill="#BEBEBE"/>
<circle cx="386.3" cy="1090.7" r="4.4" fill="#BEBEBE"/>
<circle cx="397.1" cy="1093.4" r="4.4" fill="#BEBEBE"/>
<circle cx="380.9" cy="1101.6" r="4.4" fill="#BEBEBE"/>
<circle cx="391.7" cy="1104.3" r="4.4" fill="#BEBEBE"/>
<circle cx="375.4" cy="1112.4" r="4.4" fill="#BEBEBE"/>
<circle cx="386.3" cy="1116.5" r="4.4" fill="#BEBEBE"/>
<circle cx="402.6" cy="1107.0" r="4.4" fill="#BEBEBE"/>
<circle cx="397.1" cy="1097.5" r="4.4" fill="#BEBEBE"/>
<circle cx="392.0" cy="1112.0" r="4.4" fill="#BEBEBE"/>
<polygon points="303,932 318,932 324,940 327,950 326,960 327,972 326,985 330,992 332,1005 333,1015 332,1025 333,1035 334.5,1042 334,1070 329,1078 320,1080 312,1084 310,1078 309,1068 310,1056 311,1044 310,1030 305,1020 303,1010 303,1000 309,995 309,985 311,975 311,960 310,945" fill="#0000FF"/>
<circle cx="141.5" cy="658.6" r="6.6" fill="#0000FF"/>
<circle cx="222.3" cy="679.7" r="6.6" fill="#0000FF"/>
<circle cx="238.0" cy="700.7" r="6.5" fill="#0000FF"/>
<circle cx="82.5" cy="725.7" r="6.7" fill="#0000FF"/>
<circle cx="103.8" cy="835.8" r="6.4" fill="#0000FF"/>
<circle cx="232.6" cy="844.3" r="6.4" fill="#0000FF"/>
<circle cx="314.2" cy="645.0" r="6.6" fill="#0000FF"/>
<circle cx="274.0" cy="657.4" r="6.5" fill="#0000FF"/>
<circle cx="269.6" cy="664.0" r="6.5" fill="#0000FF"/>
<circle cx="265.0" cy="676.6" r="6.5" fill="#0000FF"/>
<circle cx="295.6" cy="687.0" r="6.5" fill="#0000FF"/>
<circle cx="296.8" cy="716.0" r="6.5" fill="#0000FF"/>
<circle cx="304.0" cy="749.0" r="6.5" fill="#0000FF"/>
<circle cx="285.4" cy="758.0" r="6.5" fill="#0000FF"/>
<circle cx="326.2" cy="769.5" r="6.5" fill="#0000FF"/>
<circle cx="263.1" cy="777.9" r="6.5" fill="#0000FF"/>
<circle cx="276.7" cy="779.7" r="6.5" fill="#0000FF"/>
<circle cx="311.7" cy="791.0" r="6.5" fill="#0000FF"/>
<circle cx="295.0" cy="803.1" r="6.3" fill="#0000FF"/>
<circle cx="317.9" cy="807.9" r="6.3" fill="#0000FF"/>
<circle cx="293.6" cy="819.0" r="6.3" fill="#0000FF"/>
<circle cx="305.0" cy="820.0" r="6.3" fill="#0000FF"/>
<circle cx="303.6" cy="830.0" r="6.3" fill="#0000FF"/>
<circle cx="310.0" cy="834.3" r="6.3" fill="#0000FF"/>
<circle cx="317.1" cy="838.6" r="6.3" fill="#0000FF"/>
<circle cx="307.1" cy="842.9" r="6.3" fill="#0000FF"/>
<circle cx="294.3" cy="850.0" r="6.3" fill="#0000FF"/>
<circle cx="306.4" cy="844.3" r="6.3" fill="#0000FF"/>
<circle cx="317.1" cy="841.4" r="6.3" fill="#0000FF"/>
<circle cx="270.4" cy="857.4" r="6.3" fill="#0000FF"/>
<circle cx="284.3" cy="856.9" r="6.3" fill="#0000FF"/>
<circle cx="294.3" cy="854.3" r="6.3" fill="#0000FF"/>
<circle cx="265.7" cy="871.4" r="6.3" fill="#0000FF"/>
<circle cx="266.4" cy="867.1" r="6.3" fill="#0000FF"/>
<circle cx="278.6" cy="872.9" r="6.3" fill="#0000FF"/>
<circle cx="283.6" cy="875.0" r="6.3" fill="#0000FF"/>
<circle cx="294.3" cy="870.7" r="6.3" fill="#0000FF"/>
<circle cx="300.0" cy="867.9" r="6.3" fill="#0000FF"/>
<circle cx="302.9" cy="865.0" r="6.3" fill="#0000FF"/>
<circle cx="312.9" cy="857.9" r="6.3" fill="#0000FF"/>
<circle cx="310.0" cy="863.6" r="6.3" fill="#0000FF"/>
<circle cx="320.7" cy="861.4" r="6.3" fill="#0000FF"/>
<circle cx="320.0" cy="859.3" r="6.3" fill="#0000FF"/>
<circle cx="312.1" cy="878.3" r="6.3" fill="#0000FF"/>
<circle cx="301.7" cy="889.3" r="6.3" fill="#0000FF"/>
<circle cx="316.7" cy="891.4" r="6.3" fill="#0000FF"/>
<circle cx="284.3" cy="894.3" r="6.3" fill="#0000FF"/>
<circle cx="267.9" cy="897.9" r="6.3" fill="#0000FF"/>
<circle cx="296.4" cy="901.4" r="6.3" fill="#0000FF"/>
<circle cx="303.6" cy="905.7" r="6.3" fill="#0000FF"/>
<circle cx="287.1" cy="910.7" r="6.3" fill="#0000FF"/>
<circle cx="296.4" cy="912.9" r="6.3" fill="#0000FF"/>
<circle cx="301.4" cy="917.9" r="6.3" fill="#0000FF"/>
<circle cx="295.7" cy="918.6" r="6.3" fill="#0000FF"/>
<circle cx="323.6" cy="915.7" r="6.3" fill="#0000FF"/>
<circle cx="305.0" cy="927.1" r="6.3" fill="#0000FF"/>
<circle cx="310.0" cy="931.4" r="6.3" fill="#0000FF"/>
<circle cx="317.1" cy="933.6" r="6.3" fill="#0000FF"/>
<circle cx="325.7" cy="938.6" r="6.3" fill="#0000FF"/>
<circle cx="277.1" cy="932.9" r="6.3" fill="#0000FF"/>
<circle cx="269.9" cy="857.3" r="6.3" fill="#0000FF"/>
<circle cx="265.8" cy="868.3" r="6.3" fill="#0000FF"/>
<circle cx="264.3" cy="873.0" r="6.3" fill="#0000FF"/>
<circle cx="276.8" cy="873.0" r="6.3" fill="#0000FF"/>
<circle cx="267.4" cy="897.5" r="6.3" fill="#0000FF"/>
<circle cx="171.6" cy="913.2" r="6.0" fill="#0000FF"/>
<circle cx="203.0" cy="947.8" r="5.7" fill="#0000FF"/>
<circle cx="276.2" cy="933.3" r="6.3" fill="#0000FF"/>
<circle cx="270.6" cy="995.6" r="5.4" fill="#0000FF"/>
<circle cx="111.9" cy="1024.8" r="5.3" fill="#0000FF"/>
<circle cx="206.8" cy="1025.4" r="5.3" fill="#0000FF"/>
<circle cx="132.9" cy="1043.0" r="4.7" fill="#0000FF"/>
<circle cx="137.0" cy="1043.0" r="4.7" fill="#0000FF"/>
<circle cx="294.3" cy="945.7" r="6.3" fill="#0000FF"/>
<circle cx="299.3" cy="950.0" r="6.3" fill="#0000FF"/>
<circle cx="299.3" cy="963.6" r="6.3" fill="#0000FF"/>
<circle cx="299.7" cy="970.7" r="6.3" fill="#0000FF"/>
<circle cx="301.4" cy="988.6" r="6.3" fill="#0000FF"/>
<circle cx="301.4" cy="1005.7" r="6.1" fill="#0000FF"/>
<circle cx="310.0" cy="940.0" r="6.3" fill="#0000FF"/>
<circle cx="325.7" cy="940.0" r="6.3" fill="#0000FF"/>
<circle cx="310.0" cy="1021.4" r="6.1" fill="#0000FF"/>
<circle cx="305.7" cy="1035.7" r="6.1" fill="#0000FF"/>
<circle cx="297.1" cy="1041.4" r="6.1" fill="#0000FF"/>
<circle cx="308.6" cy="1044.3" r="6.1" fill="#0000FF"/>
<circle cx="307.1" cy="1055.7" r="6.1" fill="#0000FF"/>
<circle cx="305.7" cy="1068.6" r="6.1" fill="#0000FF"/>
<circle cx="307.9" cy="1080.0" r="6.1" fill="#0000FF"/>
<circle cx="311.4" cy="1087.1" r="6.1" fill="#0000FF"/>
<circle cx="320.0" cy="1077.1" r="6.1" fill="#0000FF"/>
<circle cx="327.1" cy="1081.4" r="6.1" fill="#0000FF"/>
<circle cx="305.0" cy="1082.3" r="6.1" fill="#0000FF"/>
<circle cx="310.3" cy="1088.3" r="6.1" fill="#0000FF"/>
<circle cx="325.7" cy="1082.3" r="6.1" fill="#0000FF"/>
<circle cx="304.7" cy="930.9" r="6.3" fill="#0000FF"/>
<circle cx="317.6" cy="932.6" r="6.3" fill="#0000FF"/>
<circle cx="310.7" cy="941.1" r="6.3" fill="#0000FF"/>
<circle cx="326.1" cy="939.4" r="6.3" fill="#0000FF"/>
<circle cx="295.3" cy="945.4" r="6.3" fill="#0000FF"/>
<circle cx="299.6" cy="949.7" r="6.3" fill="#0000FF"/>
<circle cx="314.1" cy="953.1" r="6.3" fill="#0000FF"/>
<circle cx="326.1" cy="953.1" r="6.3" fill="#0000FF"/>
<circle cx="319.3" cy="947.1" r="6.3" fill="#0000FF"/>
<circle cx="298.7" cy="963.4" r="6.3" fill="#0000FF"/>
<circle cx="299.6" cy="972.0" r="6.3" fill="#0000FF"/>
<circle cx="310.7" cy="966.0" r="6.3" fill="#0000FF"/>
<circle cx="319.3" cy="960.0" r="6.3" fill="#0000FF"/>
<circle cx="326.1" cy="974.6" r="6.3" fill="#0000FF"/>
<circle cx="314.1" cy="978.0" r="6.3" fill="#0000FF"/>
<circle cx="301.3" cy="989.1" r="6.3" fill="#0000FF"/>
<circle cx="326.1" cy="984.8" r="6.3" fill="#0000FF"/>
<circle cx="327.9" cy="993.4" r="6.3" fill="#0000FF"/>
<circle cx="310.7" cy="990.0" r="6.3" fill="#0000FF"/>
<circle cx="300.4" cy="1003.7" r="6.1" fill="#0000FF"/>
<circle cx="310.7" cy="1003.7" r="6.1" fill="#0000FF"/>
<circle cx="323.6" cy="1003.7" r="6.1" fill="#0000FF"/>
<circle cx="306.4" cy="996.9" r="6.3" fill="#0000FF"/>
<polygon points="350,950 360,950 372,948 380,950 382,960 382,975 378,985 372,990 378,998 380,1010 381,1017 378,1028 369,1034 369,1060 372,1075 360,1076 350,1080 337,1080 336.6,1050 337,1012 338,1000 342,985 344,970 345,960" fill="#FF0000"/>
<circle cx="343.4" cy="753.6" r="6.6" fill="#FF0000"/>
<circle cx="412.0" cy="715.0" r="6.6" fill="#FF0000"/>
<circle cx="448.0" cy="714.0" r="6.6" fill="#FF0000"/>
<circle cx="415.0" cy="757.4" r="6.5" fill="#FF0000"/>
<circle cx="402.0" cy="763.0" r="6.5" fill="#FF0000"/>
<circle cx="609.7" cy="739.9" r="6.6" fill="#FF0000"/>
<circle cx="425.7" cy="803.4" r="6.3" fill="#FF0000"/>
<circle cx="424.3" cy="816.9" r="6.3" fill="#FF0000"/>
<circle cx="354.5" cy="817.4" r="6.3" fill="#FF0000"/>
<circle cx="378.0" cy="825.1" r="6.3" fill="#FF0000"/>
<circle cx="394.8" cy="820.9" r="6.3" fill="#FF0000"/>
<circle cx="434.1" cy="854.8" r="6.3" fill="#FF0000"/>
<circle cx="363.4" cy="856.9" r="6.3" fill="#FF0000"/>
<circle cx="378.0" cy="857.7" r="6.3" fill="#FF0000"/>
<circle cx="357.4" cy="868.9" r="6.3" fill="#FF0000"/>
<circle cx="365.1" cy="869.7" r="6.3" fill="#FF0000"/>
<circle cx="373.2" cy="873.1" r="6.3" fill="#FF0000"/>
<circle cx="342.0" cy="878.8" r="6.3" fill="#FF0000"/>
<circle cx="363.9" cy="887.7" r="6.3" fill="#FF0000"/>
<circle cx="362.9" cy="892.5" r="6.3" fill="#FF0000"/>
<circle cx="389.1" cy="898.9" r="6.3" fill="#FF0000"/>
<circle cx="389.1" cy="902.3" r="6.3" fill="#FF0000"/>
<circle cx="354.0" cy="904.9" r="6.3" fill="#FF0000"/>
<circle cx="362.6" cy="903.1" r="6.3" fill="#FF0000"/>
<circle cx="354.0" cy="905.1" r="6.3" fill="#FF0000"/>
<circle cx="362.6" cy="904.3" r="6.3" fill="#FF0000"/>
<circle cx="389.1" cy="902.6" r="6.3" fill="#FF0000"/>
<circle cx="355.7" cy="917.1" r="6.3" fill="#FF0000"/>
<circle cx="369.1" cy="915.1" r="6.3" fill="#FF0000"/>
<circle cx="381.4" cy="920.6" r="6.3" fill="#FF0000"/>
<circle cx="388.3" cy="917.1" r="6.3" fill="#FF0000"/>
<circle cx="369.4" cy="924.0" r="6.3" fill="#FF0000"/>
<circle cx="381.4" cy="929.1" r="6.3" fill="#FF0000"/>
<circle cx="415.7" cy="914.6" r="6.3" fill="#FF0000"/>
<circle cx="417.1" cy="918.9" r="6.3" fill="#FF0000"/>
<circle cx="410.9" cy="930.0" r="6.3" fill="#FF0000"/>
<circle cx="350.6" cy="930.0" r="6.3" fill="#FF0000"/>
<circle cx="357.4" cy="930.0" r="6.3" fill="#FF0000"/>
<circle cx="366.9" cy="934.3" r="6.3" fill="#FF0000"/>
<circle cx="352.3" cy="939.4" r="6.3" fill="#FF0000"/>
<circle cx="376.3" cy="942.9" r="6.3" fill="#FF0000"/>
<circle cx="381.4" cy="942.0" r="6.3" fill="#FF0000"/>
<circle cx="397.7" cy="945.4" r="6.3" fill="#FF0000"/>
<circle cx="392.6" cy="954.9" r="6.3" fill="#FF0000"/>
<circle cx="408.9" cy="955.7" r="6.3" fill="#FF0000"/>
<circle cx="419.1" cy="956.6" r="6.3" fill="#FF0000"/>
<circle cx="413.1" cy="968.2" r="6.3" fill="#FF0000"/>
<circle cx="437.1" cy="972.0" r="5.5" fill="#FF0000"/>
<circle cx="401.1" cy="992.6" r="6.3" fill="#FF0000"/>
<circle cx="406.3" cy="1002.3" r="6.1" fill="#FF0000"/>
<circle cx="441.4" cy="1004.6" r="5.5" fill="#FF0000"/>
<circle cx="436.3" cy="1014.0" r="5.5" fill="#FF0000"/>
<circle cx="345.4" cy="961.7" r="6.3" fill="#FF0000"/>
<circle cx="343.7" cy="975.4" r="6.3" fill="#FF0000"/>
<circle cx="378.0" cy="970.3" r="6.3" fill="#FF0000"/>
<circle cx="376.3" cy="977.1" r="6.3" fill="#FF0000"/>
<circle cx="503.5" cy="899.3" r="5.9" fill="#FF0000"/>
<circle cx="508.6" cy="922.4" r="5.9" fill="#FF0000"/>
<circle cx="459.7" cy="1002.3" r="5.5" fill="#FF0000"/>
<circle cx="406.6" cy="1003.1" r="6.1" fill="#FF0000"/>
<circle cx="423.9" cy="1032.2" r="6.1" fill="#FF0000"/>
<circle cx="410.6" cy="1036.3" r="6.1" fill="#FF0000"/>
<circle cx="396.9" cy="1040.3" r="6.1" fill="#FF0000"/>
<circle cx="403.7" cy="1043.7" r="6.1" fill="#FF0000"/>
<circle cx="435.8" cy="1047.1" r="5.5" fill="#FF0000"/>
<circle cx="389.1" cy="1050.6" r="6.1" fill="#FF0000"/>
<circle cx="396.0" cy="1053.1" r="6.1" fill="#FF0000"/>
<circle cx="402.0" cy="1060.0" r="6.1" fill="#FF0000"/>
<circle cx="428.6" cy="1060.0" r="6.1" fill="#FF0000"/>
<circle cx="395.1" cy="1065.1" r="6.1" fill="#FF0000"/>
<circle cx="398.6" cy="1068.6" r="6.1" fill="#FF0000"/>
<circle cx="384.9" cy="1065.1" r="6.1" fill="#FF0000"/>
<circle cx="383.1" cy="1073.7" r="6.1" fill="#FF0000"/>
<circle cx="383.1" cy="1080.6" r="6.1" fill="#FF0000"/>
<circle cx="372.9" cy="1075.4" r="6.1" fill="#FF0000"/>
<circle cx="424.3" cy="1066.9" r="5.5" fill="#FF0000"/>
<circle cx="422.6" cy="1075.4" r="5.5" fill="#FF0000"/>
<circle cx="414.9" cy="1073.7" r="5.5" fill="#FF0000"/>
<circle cx="405.4" cy="1075.4" r="6.1" fill="#FF0000"/>
<circle cx="395.1" cy="1078.9" r="6.1" fill="#FF0000"/>
<circle cx="398.6" cy="1085.7" r="6.1" fill="#FF0000"/>
<circle cx="402.9" cy="1087.4" r="6.1" fill="#FF0000"/>
<circle cx="432.9" cy="1078.9" r="5.2" fill="#FF0000"/>
<circle cx="438.0" cy="1082.3" r="5.2" fill="#FF0000"/>
<circle cx="432.9" cy="1089.1" r="5.2" fill="#FF0000"/>
<circle cx="444.0" cy="1065.1" r="5.2" fill="#FF0000"/>
<circle cx="448.3" cy="1073.7" r="5.2" fill="#FF0000"/>
<circle cx="446.6" cy="1084.0" r="5.2" fill="#FF0000"/>
<circle cx="368.6" cy="1090.5" r="5.5" fill="#FF0000"/>
<circle cx="381.4" cy="1030.9" r="6.1" fill="#FF0000"/>
<circle cx="371.1" cy="1044.6" r="6.1" fill="#FF0000"/>
<circle cx="379.7" cy="1054.9" r="6.1" fill="#FF0000"/>
<circle cx="372.9" cy="1061.7" r="6.1" fill="#FF0000"/>
<circle cx="468.2" cy="1025.1" r="5.5" fill="#FF0000"/>
<circle cx="507.3" cy="1042.7" r="5.2" fill="#FF0000"/>
<circle cx="478.5" cy="1048.0" r="5.2" fill="#FF0000"/>
<circle cx="455.1" cy="1053.7" r="5.2" fill="#FF0000"/>
<circle cx="454.0" cy="1057.8" r="5.2" fill="#FF0000"/>
<circle cx="431.1" cy="1060.6" r="5.2" fill="#FF0000"/>
<circle cx="444.9" cy="1065.8" r="5.2" fill="#FF0000"/>
<circle cx="450.1" cy="1072.5" r="5.2" fill="#FF0000"/>
<circle cx="479.8" cy="1067.9" r="5.2" fill="#FF0000"/>
<circle cx="470.7" cy="1077.0" r="5.2" fill="#FF0000"/>
<circle cx="490.6" cy="1080.2" r="5.2" fill="#FF0000"/>
<circle cx="433.4" cy="1078.9" r="5.2" fill="#FF0000"/>
<circle cx="438.0" cy="1081.1" r="5.2" fill="#FF0000"/>
<circle cx="433.4" cy="1089.1" r="5.2" fill="#FF0000"/>
<circle cx="439.1" cy="1085.7" r="5.2" fill="#FF0000"/>
<circle cx="447.1" cy="1085.3" r="5.2" fill="#FF0000"/>
<circle cx="542.0" cy="1071.5" r="5.2" fill="#FF0000"/>
<circle cx="547.0" cy="1069.0" r="5.2" fill="#FF0000"/>
<circle cx="538.3" cy="1086.2" r="5.2" fill="#FF0000"/>
<circle cx="384.0" cy="1082.3" r="6.1" fill="#FF0000"/>
<circle cx="399.4" cy="1085.7" r="6.1" fill="#FF0000"/>
<circle cx="396.0" cy="1077.1" r="6.1" fill="#FF0000"/>
<circle cx="401.1" cy="1072.0" r="6.1" fill="#FF0000"/>
<circle cx="392.6" cy="1065.1" r="6.1" fill="#FF0000"/>
<circle cx="380.6" cy="1070.3" r="6.1" fill="#FF0000"/>
<circle cx="372.0" cy="1075.4" r="6.1" fill="#FF0000"/>
<circle cx="346.3" cy="1070.3" r="6.1" fill="#FF0000"/>
<circle cx="353.1" cy="1078.9" r="6.1" fill="#FF0000"/>
<circle cx="350.6" cy="931.7" r="6.3" fill="#FF0000"/>
<circle cx="366.0" cy="934.3" r="6.3" fill="#FF0000"/>
<circle cx="381.4" cy="931.7" r="6.3" fill="#FF0000"/>
<circle cx="353.1" cy="941.1" r="6.3" fill="#FF0000"/>
<circle cx="374.6" cy="942.9" r="6.3" fill="#FF0000"/>
<circle cx="381.4" cy="943.7" r="6.3" fill="#FF0000"/>
<circle cx="391.7" cy="945.4" r="6.3" fill="#FF0000"/>
<circle cx="392.6" cy="954.9" r="6.3" fill="#FF0000"/>
<circle cx="358.3" cy="949.7" r="6.3" fill="#FF0000"/>
<circle cx="366.0" cy="948.9" r="6.3" fill="#FF0000"/>
<circle cx="346.3" cy="961.7" r="6.3" fill="#FF0000"/>
<circle cx="354.9" cy="957.4" r="6.3" fill="#FF0000"/>
<circle cx="377.1" cy="960.9" r="6.3" fill="#FF0000"/>
<circle cx="378.8" cy="970.3" r="6.3" fill="#FF0000"/>
<circle cx="376.3" cy="978.0" r="6.3" fill="#FF0000"/>
<circle cx="345.4" cy="974.6" r="6.3" fill="#FF0000"/>
<circle cx="339.4" cy="991.7" r="6.3" fill="#FF0000"/>
<circle cx="344.6" cy="985.7" r="6.3" fill="#FF0000"/>
<circle cx="374.6" cy="991.7" r="6.3" fill="#FF0000"/>
<circle cx="378.8" cy="1000.3" r="6.1" fill="#FF0000"/>
<circle cx="346.3" cy="1005.4" r="6.1" fill="#FF0000"/>
<circle cx="378.8" cy="1007.1" r="6.1" fill="#FF0000"/>
<circle cx="407.1" cy="1068.6" r="4.4" fill="#BEBEBE"/>
<circle cx="342.0" cy="1077.1" r="4.4" fill="#BEBEBE"/>
<circle cx="357.4" cy="1078.9" r="4.4" fill="#BEBEBE"/>
<circle cx="364.3" cy="1075.4" r="4.4" fill="#BEBEBE"/>
<circle cx="357.4" cy="1079.7" r="4.4" fill="#BEBEBE"/>
<circle cx="342.9" cy="1078.0" r="4.4" fill="#BEBEBE"/>
<circle cx="408.0" cy="1068.6" r="4.4" fill="#BEBEBE"/>
<line x1="336.20" y1="1151.90" x2="336.20" y2="621.40" stroke="#222" stroke-width="1.0" stroke-dasharray="3.78,3.78"/>
<line x1="33.40" y1="1100.29" x2="639.70" y2="1100.29" stroke="#222" stroke-width="1.0" stroke-dasharray="3.78,3.78" stroke-dashoffset="-0.9"/>
<rect x="33.4" y="621.4" width="606.30" height="530.50" fill="none" stroke="#666" stroke-width="1.1"/>
<line x1="124.50" y1="1151.90" x2="124.50" y2="1154.60" stroke="#444" stroke-width="1.1" />
<text transform="translate(124.50,1163.50) scale(0.93,1.05)" font-size="9" text-anchor="middle" fill="#4D4D4D" >-10</text>
<line x1="230.35" y1="1151.90" x2="230.35" y2="1154.60" stroke="#444" stroke-width="1.1" />
<text transform="translate(230.35,1163.50) scale(0.93,1.05)" font-size="9" text-anchor="middle" fill="#4D4D4D" >-5</text>
<line x1="336.20" y1="1151.90" x2="336.20" y2="1154.60" stroke="#444" stroke-width="1.1" />
<text transform="translate(336.20,1163.50) scale(0.93,1.05)" font-size="9" text-anchor="middle" fill="#4D4D4D" >0</text>
<line x1="442.05" y1="1151.90" x2="442.05" y2="1154.60" stroke="#444" stroke-width="1.1" />
<text transform="translate(442.05,1163.50) scale(0.93,1.05)" font-size="9" text-anchor="middle" fill="#4D4D4D" >5</text>
<line x1="547.90" y1="1151.90" x2="547.90" y2="1154.60" stroke="#444" stroke-width="1.1" />
<text transform="translate(547.90,1163.50) scale(0.93,1.05)" font-size="9" text-anchor="middle" fill="#4D4D4D" >10</text>
<line x1="30.70" y1="1128.10" x2="33.40" y2="1128.10" stroke="#444" stroke-width="1.1" />
<text transform="translate(28.20,1131.70) scale(0.9,1.1)" font-size="9" text-anchor="end" fill="#4D4D4D" >0</text>
<line x1="30.70" y1="1021.22" x2="33.40" y2="1021.22" stroke="#444" stroke-width="1.1" />
<text transform="translate(28.20,1024.82) scale(0.9,1.1)" font-size="9" text-anchor="end" fill="#4D4D4D" >5</text>
<line x1="30.70" y1="914.35" x2="33.40" y2="914.35" stroke="#444" stroke-width="1.1" />
<text transform="translate(28.20,917.95) scale(0.9,1.1)" font-size="9" text-anchor="end" fill="#4D4D4D" >10</text>
<line x1="30.70" y1="807.47" x2="33.40" y2="807.47" stroke="#444" stroke-width="1.1" />
<text transform="translate(28.20,811.07) scale(0.9,1.1)" font-size="9" text-anchor="end" fill="#4D4D4D" >15</text>
<line x1="30.70" y1="700.60" x2="33.40" y2="700.60" stroke="#444" stroke-width="1.1" />
<text transform="translate(28.20,704.20) scale(0.9,1.1)" font-size="9" text-anchor="end" fill="#4D4D4D" >20</text>
<text transform="translate(1.00,628.90) scale(0.89,1)" font-size="22.5" text-anchor="start" fill="#000" font-weight="bold" stroke="#000" stroke-width="0.5">B</text>
<text x="336.55" y="566.60" font-size="11" text-anchor="middle" fill="#000" >log2 (Fold change)</text>
<text transform="translate(14.2,277.05) rotate(-90) scale(1.0,0.86)" font-size="11" text-anchor="middle" fill="#000">-log10 (P value)</text>
<text x="336.55" y="1176.50" font-size="11" text-anchor="middle" fill="#000" >log2 (Fold change)</text>
<text transform="translate(14.2,886.95) rotate(-90) scale(1.0,0.86)" font-size="11" text-anchor="middle" fill="#000">-log10 (P value)</text>
<circle cx="664.3" cy="206.50" r="2.1" fill="#0000FF"/>
<text x="678.30" y="209.50" font-size="8.8" text-anchor="start" fill="#000" >down</text>
<circle cx="664.3" cy="223.50" r="2.1" fill="#BEBEBE"/>
<text x="678.30" y="226.50" font-size="8.8" text-anchor="start" fill="#000" >non</text>
<circle cx="664.3" cy="240.50" r="2.1" fill="#FF0000"/>
<text x="678.30" y="243.50" font-size="8.8" text-anchor="start" fill="#000" >up</text>
<text x="656.30" y="279.50" font-size="11" text-anchor="start" fill="#000" >VIP</text>
<circle cx="664.3" cy="294.60" r="3.5" fill="#000"/>
<text x="678.30" y="297.60" font-size="8.8" text-anchor="start" fill="#000" >0.5</text>
<circle cx="664.3" cy="311.60" r="4.5" fill="#000"/>
<text x="678.30" y="314.60" font-size="8.8" text-anchor="start" fill="#000" >1.0</text>
<circle cx="664.3" cy="328.60" r="5.36" fill="#000"/>
<text x="678.30" y="331.60" font-size="8.8" text-anchor="start" fill="#000" >1.5</text>
<circle cx="664.3" cy="345.60" r="6.0" fill="#000"/>
<text x="678.30" y="348.60" font-size="8.8" text-anchor="start" fill="#000" >2.0</text>
<circle cx="664.3" cy="362.60" r="6.43" fill="#000"/>
<text x="678.30" y="365.60" font-size="8.8" text-anchor="start" fill="#000" >2.5</text>
<circle cx="664.3" cy="816.50" r="2.1" fill="#0000FF"/>
<text x="678.30" y="819.50" font-size="8.8" text-anchor="start" fill="#000" >down</text>
<circle cx="664.3" cy="833.50" r="2.1" fill="#BEBEBE"/>
<text x="678.30" y="836.50" font-size="8.8" text-anchor="start" fill="#000" >non</text>
<circle cx="664.3" cy="850.50" r="2.1" fill="#FF0000"/>
<text x="678.30" y="853.50" font-size="8.8" text-anchor="start" fill="#000" >up</text>
<text x="656.30" y="889.50" font-size="11" text-anchor="start" fill="#000" >VIP</text>
<circle cx="664.3" cy="904.60" r="3.5" fill="#000"/>
<text x="678.30" y="907.60" font-size="8.8" text-anchor="start" fill="#000" >0.5</text>
<circle cx="664.3" cy="921.60" r="4.5" fill="#000"/>
<text x="678.30" y="924.60" font-size="8.8" text-anchor="start" fill="#000" >1.0</text>
<circle cx="664.3" cy="938.60" r="5.36" fill="#000"/>
<text x="678.30" y="941.60" font-size="8.8" text-anchor="start" fill="#000" >1.5</text>
<circle cx="664.3" cy="955.60" r="6.0" fill="#000"/>
<text x="678.30" y="958.60" font-size="8.8" text-anchor="start" fill="#000" >2.0</text>
<circle cx="664.3" cy="972.60" r="6.43" fill="#000"/>
<text x="678.30" y="975.60" font-size="8.8" text-anchor="start" fill="#000" >2.5</text>
</svg></body></html>
